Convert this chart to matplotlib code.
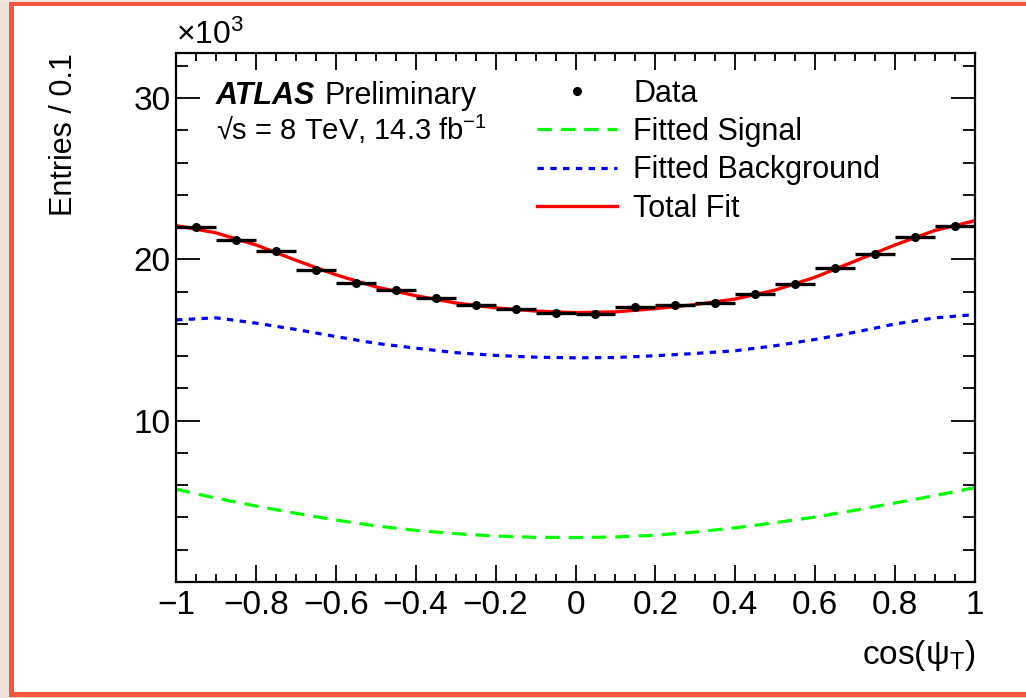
import numpy as np
import matplotlib.pyplot as plt
from matplotlib.patches import Rectangle
from matplotlib.lines import Line2D
from matplotlib.ticker import FixedLocator, FixedFormatter, MultipleLocator

plt.rcParams['font.family'] = ['Liberation Sans', 'DejaVu Sans']
plt.rcParams['mathtext.fontset'] = 'custom'
plt.rcParams['mathtext.rm'] = 'Liberation Sans'
plt.rcParams['mathtext.it'] = 'Liberation Sans:italic'
plt.rcParams['mathtext.bf'] = 'Liberation Sans:bold'

# data (entries in units of 10^3)
bin_centers = [-0.95, -0.85, -0.75, -0.65, -0.55, -0.45, -0.35, -0.25, -0.15, -0.05,
               0.05, 0.15, 0.25, 0.35, 0.45, 0.55, 0.65, 0.75, 0.85, 0.95]
data_counts = [22.0, 21.2, 20.52, 19.36, 18.57, 18.08, 17.58, 17.15, 16.9, 16.65,
               16.63, 17.07, 17.19, 17.33, 17.83, 18.47, 19.48, 20.35, 21.41, 22.05]
bin_halfwidth = 0.05

curve_x = [-1.0, -0.9, -0.8, -0.7, -0.6, -0.5, -0.4, -0.3, -0.2, -0.1, 0.0,
           0.1, 0.2, 0.3, 0.4, 0.5, 0.6, 0.7, 0.8, 0.9, 1.0]
signal_fit = [5.75, 5.2, 4.71, 4.26, 3.84, 3.48, 3.2, 3.0, 2.85, 2.77, 2.76,
              2.79, 2.9, 3.1, 3.36, 3.68, 4.03, 4.45, 4.9, 5.36, 5.85]
background_fit = [16.25, 16.38, 16.05, 15.66, 15.22, 14.8, 14.5, 14.22, 14.05, 13.94, 13.9,
                  13.92, 14.03, 14.17, 14.34, 14.65, 15.04, 15.49, 16.0, 16.38, 16.58]
total_fit = [22.1, 21.65, 20.9, 19.95, 19.05, 18.3, 17.75, 17.3, 17.0, 16.8, 16.7,
             16.75, 16.95, 17.2, 17.55, 18.1, 18.9, 19.9, 20.9, 21.8, 22.4]

x_ticks = [-1, -0.8, -0.6, -0.4, -0.2, 0, 0.2, 0.4, 0.6, 0.8, 1]
x_ticklabels = ['\u22121', '\u22120.8', '\u22120.6', '\u22120.4', '\u22120.2', '0',
                '0.2', '0.4', '0.6', '0.8', '1']
y_ticks = [10, 20, 30]
y_ticklabels = ['10', '20', '30']

W, H = 1026, 698
fig = plt.figure(figsize=(W / 100, H / 100), dpi=100)
fig.patch.set_facecolor('white')


def px_rect(x0, y0, x1, y1, color):
    # rectangle in image pixel coords (origin top-left)
    fig.add_artist(Rectangle((x0 / W, 1 - y1 / H), (x1 - x0) / W, (y1 - y0) / H,
                             transform=fig.transFigure, facecolor=color,
                             edgecolor='none', zorder=0))


# slide-like frame around the plot
px_rect(0, 0, 9, H, '#eee2d6')
px_rect(0, 0, W, 2, '#f3e4dc')
px_rect(0, 695, W, H, '#eee2d6')
px_rect(9, 2, W, 6, '#f4583a')
px_rect(9, 2, 14, 697, '#f4583a')
px_rect(9, 692, W, 697, '#f4583a')

ax = fig.add_axes([176 / W, 1 - 582 / H, 799 / W, 529 / H])
ax.set_xlim(-1, 1)
ax.set_ylim(0, 32.8)

sig_ls = (0, (4.5, 2.8))
bkg_ls = (0, (2.0, 2.0))
ax.plot(curve_x, signal_fit, color='#00ff00', lw=2.3, ls=sig_ls)
ax.plot(curve_x, background_fit, color='#0000ff', lw=2.3, ls=bkg_ls)
ax.plot(curve_x, total_fit, color='#ff0000', lw=2.4)
ax.errorbar(bin_centers, data_counts, xerr=bin_halfwidth, fmt='o', color='black',
            ms=5.5, elinewidth=2.4, capsize=0, zorder=5)

for s in ax.spines.values():
    s.set_linewidth(1.6)

ax.xaxis.set_major_locator(FixedLocator(x_ticks))
ax.xaxis.set_major_formatter(FixedFormatter(x_ticklabels))
ax.xaxis.set_minor_locator(MultipleLocator(0.05))
ax.yaxis.set_major_locator(FixedLocator(y_ticks))
ax.yaxis.set_major_formatter(FixedFormatter(y_ticklabels))
ax.yaxis.set_minor_locator(MultipleLocator(2))

ax.tick_params(axis='x', which='major', direction='in', top=True, length=12,
               width=1.3, labelsize=24, pad=6)
ax.tick_params(axis='x', which='minor', direction='in', top=True, length=6, width=1.3)
ax.tick_params(axis='y', which='major', direction='in', right=True, length=17,
               width=1.3, labelsize=24, pad=4)
ax.tick_params(axis='y', which='minor', direction='in', right=True, length=8.5, width=1.3)

ax.set_ylabel('Entries / 0.1', fontsize=22, loc='top')
ax.yaxis.set_label_coords(-0.122, 1.0)
ax.set_xlabel('cos(\u03c8$_{\\rm T}$)', fontsize=24, loc='right')
ax.xaxis.set_label_coords(1.0, -0.105)

ax.text(0.0, 1.003, '\u00d710$^{3}$', transform=ax.transAxes, fontsize=23,
        ha='left', va='bottom')

atlas = ax.text(0.05, 0.903, 'ATLAS', transform=ax.transAxes, fontsize=22,
                fontweight='bold', fontstyle='italic', va='baseline')
fig.canvas.draw()
bb = atlas.get_window_extent().transformed(ax.transAxes.inverted())
ax.text(bb.x1 + 0.011, 0.903, 'Preliminary', transform=ax.transAxes, fontsize=22,
        va='baseline')
ax.text(0.05, 0.836, '\u221as = 8 TeV, 14.3 fb$^{-1}$', transform=ax.transAxes,
        fontsize=21, va='baseline')

handles = [
    Line2D([], [], color='black', marker='o', ms=5.5, ls='none'),
    Line2D([], [], color='#00ff00', lw=2.3, ls=sig_ls),
    Line2D([], [], color='#0000ff', lw=2.3, ls=bkg_ls),
    Line2D([], [], color='#ff0000', lw=2.4),
]
labels = ['Data', 'Fitted Signal', 'Fitted Background', 'Total Fit']
ax.legend(handles, labels, loc='upper left', bbox_to_anchor=(0.452, 0.951),
          frameon=False, fontsize=22, handlelength=2.62, handletextpad=0.52,
          labelspacing=0.27, borderaxespad=0, borderpad=0)

fig.savefig('out.png', dpi=100)
